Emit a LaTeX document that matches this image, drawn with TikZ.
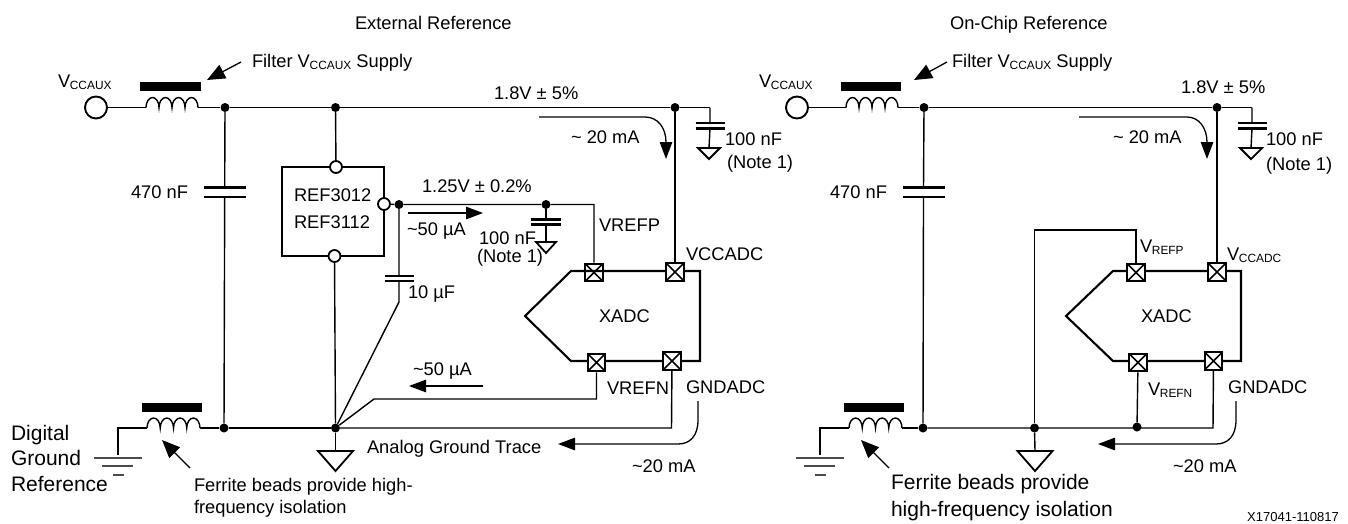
\documentclass[tikz,border=0pt]{standalone}
\usepackage{fontspec}
\setmainfont{Liberation Sans}
\usetikzlibrary{arrows.meta}
\newcommand{\fsize}[1]{\fontsize{#1}{#1}\selectfont}
\newcommand{\Vsub}[2]{V\hspace{-0.3pt}{\fsize{11.9}\raisebox{-2.6pt}{#2}}}
% capacitor: name, x, y top plate, y bottom plate, half width
\newcommand{\capplates}[5]{%
  \coordinate (#1-t) at (#2,#3);\coordinate (#1-b) at (#2,#4);
  \draw[plate] (#2-#5,#3) -- (#2+#5,#3) (#2-#5,#4) -- (#2+#5,#4);}
% ground triangle: name, x, y, half width, height
\newcommand{\gndtri}[5]{%
  \coordinate (#1) at (#2,#3);
  \draw[wire,line width=1.8pt,line join=miter] (#2-#4,#3) -- (#2+#4,#3) -- (#2,#3+#5) -- cycle;}
% earth symbol: name, x, y
\newcommand{\earth}[3]{%
  \coordinate (#1) at (#2,#3);
  \draw[earthline] (#2-24,#3+3) -- (#2+24,#3+3) (#2-16,#3+11) -- (#2+15,#3+11) (#2-5,#3+20) -- (#2+6,#3+20);}
% bead: name, x start, x end (coil), y, bar left, bar right, bar top
\newcommand{\bead}[7]{%
  \coordinate (#1-l) at (#2,#4);\coordinate (#1-r) at (#3,#4);
  \fill (#5,#7) rectangle (#6,#7+8.5);
  \pgfmathsetmacro{\rx}{(#3-#2)/8}
  \draw[wire] (#1-l) arc[start angle=180,end angle=0,x radius=\rx pt,y radius=10pt]
    arc[start angle=180,end angle=0,x radius=\rx pt,y radius=10pt]
    arc[start angle=180,end angle=0,x radius=\rx pt,y radius=10pt]
    arc[start angle=180,end angle=0,x radius=\rx pt,y radius=10pt];}
\tikzset{
  wire/.style={line width=1.4pt,line cap=butt,line join=miter},
  plate/.style={line width=2.1pt},
  earthline/.style={line width=1.3pt,black!70},
  body/.style={line width=2.1pt,line join=miter},
  flow/.style={line width=1.3pt,-{Triangle[length=17pt,width=12.5pt]}},
  note/.style={line width=1.3pt,-{Triangle[length=18pt,width=15pt]}},
  txt/.style={anchor=base west,inner sep=0pt,outer sep=0pt,font=\fsize{18.3}},
  big/.style={anchor=base west,inner sep=0pt,outer sep=0pt,font=\fsize{21}},
  dotj/.style={circle,fill=black,inner sep=0pt,minimum size=9pt},
  opin/.style={circle,draw=black,line width=1.8pt,fill=white,inner sep=0pt,minimum size=12pt},
  supply/.style={circle,draw=black,line width=1.9pt,fill=white,inner sep=0pt,minimum size=22pt},
  pad/.style={rectangle,draw=black,line width=2.1pt,fill=white,inner sep=0pt,minimum size=17.5pt,
    path picture={\draw[line width=1.7pt] (path picture bounding box.north west) -- (path picture bounding box.south east)
      (path picture bounding box.north east) -- (path picture bounding box.south west);}},
}
\begin{document}
\begin{tikzpicture}[x=1pt,y=-1pt]
\useasboundingbox (0,0) rectangle (1348,523);
%%%%%% LEFT
\node[txt] (t1) at (355,29) {External Reference};
\node[supply] (vaux) at (96,107.5) {};
\node[txt] (lvaux) at (58,87) {\Vsub{}{CCAUX}};
\bead{b1}{146}{198}{107.5}{140}{201}{82}
\node[txt] (lf1) at (252,67) {Filter \Vsub{}{CCAUX} Supply};
\coordinate (af1) at (241,62);\coordinate (af2) at (207,80);
\draw[note] (af1) -- (af2);
\node[dotj] (d1) at (225,107.5) {};
\node[dotj] (d2) at (335.5,107.5) {};
\node[dotj] (d3) at (675,107.5) {};
\coordinate (c100a) at (710,107.5);
\draw[wire] (vaux) -- (b1-l) (b1-r) -- (d1) -- (d2) -- (d3) -- (c100a);
\node[txt] (v18) at (494,99) {1.8V ± 5\%};
\capplates{c1}{710}{122.7}{128.5}{14.5}
\gndtri{g1}{709}{148}{11}{11}
\draw[wire] (c100a) -- (c1-t) (c1-b) -- (g1);
\node[txt] (l100a) at (725,145) {100 nF};
\node[txt] (l100b) at (727,168.5) {(Note 1)};
\coordinate (a20s) at (539,117);\coordinate (a20e) at (666,159);
\draw[flow] (a20s) -- (645,117) .. controls (658,117) and (666,128) .. (a20e);
\node[txt] (l20) at (571,143) {\textasciitilde{} 20 mA};
% 470 nF
\capplates{c2}{224.7}{187.5}{197}{21}
\node[dotj] (d4) at (224,428) {};
\draw[wire] (d1) -- (c2-t) (c2-b) -- (d4);
\node[txt] (l470) at (131,198) {470 nF};
% REF box
\draw[body] (282,167) rectangle (384,256);
\node[opin] (r1) at (336,167) {};
\node[opin] (r2) at (384,204) {};
\node[opin] (r3) at (334.5,256) {};
\node[txt] (lr1) at (294,201) {REF3012};
\node[txt] (lr2) at (294,228) {REF3112};
\node[dotj] (d5) at (335.5,428) {};
\draw[wire] (d2) -- (r1) (r3) -- (d5);
% ref output
\node[dotj] (d6) at (399,204.5) {};
\node[dotj] (d7) at (546,204.5) {};
\node[pad] (pp) at (594,272.5) {};
\coordinate (k1) at (594,204.5);
\draw[wire] (r2) -- (d6) -- (d7) -- (k1) -- (pp);
\node[txt] (l125) at (422,192) {1.25V ± 0.2\%};
\coordinate (a50s) at (408,213);\coordinate (a50e) at (483,213);
\draw[flow] (a50s) -- (a50e);
\node[txt] (l50a) at (407,235) {\textasciitilde{}50 µA};
\capplates{c3}{546}{219.5}{224.5}{15}
\gndtri{g3}{546}{242}{10}{11}
\draw[wire] (d7) -- (c3-t) (c3-b) -- (g3);
\node[txt] (l100c) at (479,244) {100 nF};
\node[txt] (l100d) at (477,262) {(Note 1)};
\capplates{c4}{399}{276}{281}{14.5}
\coordinate (k2) at (399,302);
\draw[wire] (d6) -- (c4-t) (c4-b) -- (k2) -- (d5);
\node[txt] (l10) at (408,298) {10 µF};
% XADC
\draw[body] (594,271) -- (571,271) -- (525,316) -- (571,361) -- (700,361) -- (700,271) -- (594,271);
\node[pad] (pv) at (675,272) {};
\node[pad] (pn) at (596.5,362.5) {};
\node[pad] (pg) at (672,361) {};
\draw[wire] (d3) -- (pv);
\node[txt] (lx) at (599,322) {XADC};
\node[txt] (lvp) at (599,231) {VREFP};
\node[txt] (lvc) at (686,260) {VCCADC};
\node[txt] (lvn) at (607,394) {VREFN};
\node[txt] (lgn) at (686,393) {GNDADC};
\coordinate (k3) at (596.5,399);\coordinate (k4) at (374,399);
\draw[wire] (pn) -- (k3) -- (k4) -- (d5);
\coordinate (k5) at (671.5,428);
\draw[wire] (pg) -- (k5) -- (d5);
\coordinate (a5s) at (483,386);\coordinate (a5e) at (409,386);
\draw[flow] (a5s) -- (a5e);
\node[txt] (l50b) at (413,375) {\textasciitilde{}50 µA};
\draw[flow] (698,401) -- (698,420) .. controls (698,436) and (690,444) .. (678,444) -- (558,444);
\node[txt] (l20b) at (632,472) {\textasciitilde{}20 mA};
\node[txt] (lag) at (367,453) {Analog Ground Trace};
% bottom left
\bead{b2}{147}{200}{428}{142}{202}{403}
\coordinate (k6) at (118,428);
\earth{e1}{118}{455}
\draw[wire] (e1) -- (k6) -- (b2-l) (b2-r) -- (d4) -- (d5);
\gndtri{g2}{335.5}{451}{17.5}{20}
\draw[wire] (d5) -- (g2);
\coordinate (af3) at (190,468);\coordinate (af4) at (162,440);
\draw[note] (af3) -- (af4);
\node[big] (ld1) at (11,440) {Digital};
\node[big] (ld2) at (11,465.5) {Ground};
\node[big] (ld3) at (11,491) {Reference};
\node[txt] (lfb1) at (194,491) {Ferrite beads provide high-};
\node[txt] (lfb2) at (194,513) {frequency isolation};
%%%%%% RIGHT
\node[txt] (t2) at (950,29) {On-Chip Reference};
\node[supply] (vaux2) at (797,107.5) {};
\node[txt] (lvaux2) at (759,87) {\Vsub{}{CCAUX}};
\bead{b3}{846}{898}{107.5}{841}{900.5}{82}
\node[txt] (lf2) at (952,67) {Filter \Vsub{}{CCAUX} Supply};
\coordinate (ag1) at (947,62);\coordinate (ag2) at (914,80);
\draw[note] (ag1) -- (ag2);
\node[dotj] (e1d) at (924,107.5) {};
\node[dotj] (e3d) at (1217,107.5) {};
\coordinate (c200a) at (1252,107.5);
\draw[wire] (vaux2) -- (b3-l) (b3-r) -- (e1d) -- (e3d) -- (c200a);
\node[txt] (v18b) at (1181,93) {1.8V ± 5\%};
\capplates{c5}{1252}{123}{128.5}{14.5}
\gndtri{g5}{1251}{148}{11}{11}
\draw[wire] (c200a) -- (c5-t) (c5-b) -- (g5);
\node[txt] (l100e) at (1266,145) {100 nF};
\node[txt] (l100f) at (1266,170) {(Note 1)};
\coordinate (b20s) at (1079,117);\coordinate (b20e) at (1207,159);
\draw[flow] (b20s) -- (1187,117) .. controls (1199,117) and (1207,128) .. (b20e);
\node[txt] (l20c) at (1113,143) {\textasciitilde{} 20 mA};
\capplates{c6}{923.5}{187.5}{197}{21}
\node[dotj] (e4d) at (923,428) {};
\draw[wire] (e1d) -- (c6-t) (c6-b) -- (e4d);
\node[txt] (l470b) at (830,198) {470 nF};
% XADC right
\draw[body] (1136,271) -- (1113,271) -- (1066,316) -- (1113,361) -- (1241,361) -- (1241,271) -- (1136,271);
\node[pad] (qv) at (1217,272) {};
\node[pad] (qp) at (1136,272.5) {};
\node[pad] (qn) at (1138,362.5) {};
\node[pad] (qg) at (1213.5,361) {};
\draw[wire] (e3d) -- (qv);
\node[dotj] (e5d) at (1034.5,428) {};
\node[dotj] (e6d) at (1137,427) {};
\coordinate (m1) at (1136,230);\coordinate (m2) at (1034.5,230);
\draw[wire] (qp) -- (m1) -- (m2) -- (e5d);
\draw[wire] (qn) -- (e6d);
\coordinate (m3) at (1213,428);
\draw[wire] (qg) -- (m3) -- (e4d);
\node[txt] (lx2) at (1141,322) {XADC};
\node[txt] (lvp2) at (1140,252) {\Vsub{}{REFP}};
\node[txt] (lvc2) at (1227,260) {\Vsub{}{CCADC}};
\node[txt] (lvn2) at (1148,395) {\Vsub{}{REFN}};
\node[txt] (lgn2) at (1228,393) {GNDADC};
\draw[flow] (1236,401) -- (1236,420) .. controls (1236,436) and (1228,444) .. (1216,444) -- (1098,444);
\node[txt] (l20d) at (1173,472) {\textasciitilde{}20 mA};
\bead{b4}{849}{902}{428}{844}{904}{403}
\coordinate (m4) at (820,428);
\earth{e2}{820}{455}
\draw[wire] (e2) -- (m4) -- (b4-l) (b4-r) -- (e4d);
\gndtri{g6}{1035}{451}{17.5}{20}
\draw[wire] (e5d) -- (g6);
\coordinate (ag3) at (889,468);\coordinate (ag4) at (861,440);
\draw[note] (ag3) -- (ag4);
\node[big] (lfb3) at (891,489) {Ferrite beads provide};
\node[big] (lfb4) at (891,516) {high-frequency isolation};
\node[anchor=base west,inner sep=0pt,font=\fsize{13}] (fig) at (1247,521) {X17041-110817};
\end{tikzpicture}
\end{document}
